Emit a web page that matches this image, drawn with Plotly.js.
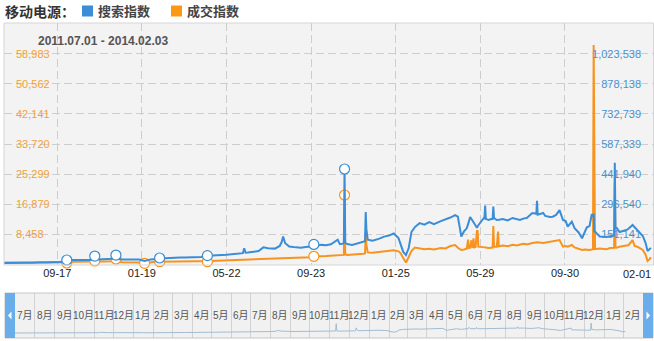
<!DOCTYPE html>
<html><head><meta charset="utf-8">
<script src="https://cdn.plot.ly/plotly-3.0.1.min.js"></script>
<style>html,body{margin:0;padding:0;background:#fff;}#chart{width:654px;height:341px;}</style>
</head><body><div id="chart"></div>
<script>
const chartTitle = '移动电源：';
const seriesNames = ['搜索指数', '成交指数'];

const dates = [
 '2011-07-01','2011-07-08','2011-07-15','2011-07-22',
 '2011-08-01','2011-08-08','2011-08-15','2011-08-22',
 '2011-09-01','2011-09-08','2011-09-15','2011-09-22',
 '2011-10-01','2011-10-08','2011-10-15','2011-10-22',
 '2011-11-01','2011-11-08','2011-11-11','2011-11-15','2011-11-22',
 '2011-12-01','2011-12-08','2011-12-12','2011-12-15','2011-12-22',
 '2012-01-01','2012-01-08','2012-01-15','2012-01-23','2012-01-29',
 '2012-02-01','2012-02-08','2012-02-14','2012-02-22',
 '2012-03-01','2012-03-08','2012-03-15','2012-03-22',
 '2012-04-01','2012-04-08','2012-04-15','2012-04-24',
 '2012-05-01','2012-05-08','2012-05-15','2012-05-22',
 '2012-06-01','2012-06-08','2012-06-15','2012-06-17','2012-06-19','2012-06-22',
 '2012-07-01','2012-07-08','2012-07-15','2012-07-22',
 '2012-08-01','2012-08-08','2012-08-11','2012-08-13','2012-08-16','2012-08-22',
 '2012-09-01','2012-09-08','2012-09-15','2012-09-22','2012-09-27',
 '2012-10-01','2012-10-08','2012-10-15','2012-10-22',
 '2012-11-01','2012-11-04','2012-11-08','2012-11-10','2012-11-11','2012-11-12','2012-11-15','2012-11-22',
 '2012-12-01','2012-12-08','2012-12-11','2012-12-12','2012-12-13','2012-12-15','2012-12-22',
 '2013-01-01','2013-01-08','2013-01-15','2013-01-22','2013-01-29',
 '2013-02-01','2013-02-05','2013-02-09','2013-02-13','2013-02-17','2013-02-22',
 '2013-03-01','2013-03-08','2013-03-15','2013-03-22',
 '2013-04-01','2013-04-08','2013-04-15','2013-04-22','2013-04-26','2013-04-29',
 '2013-05-01','2013-05-05','2013-05-09','2013-05-11','2013-05-12','2013-05-14','2013-05-16','2013-05-17','2013-05-19','2013-05-20','2013-05-22','2013-05-24','2013-05-25','2013-05-26','2013-05-31',
 '2013-06-03','2013-06-04','2013-06-05','2013-06-06','2013-06-07','2013-06-10','2013-06-14','2013-06-16','2013-06-17','2013-06-18','2013-06-22','2013-06-24','2013-06-25',
 '2013-07-01','2013-07-08','2013-07-15','2013-07-22','2013-07-26',
 '2013-08-01','2013-08-05','2013-08-13','2013-08-19','2013-08-20','2013-08-21','2013-08-29',
 '2013-09-01','2013-09-08','2013-09-12','2013-09-17','2013-09-22','2013-09-27',
 '2013-10-01','2013-10-04','2013-10-10','2013-10-14','2013-10-20','2013-10-25','2013-10-29',
 '2013-11-01','2013-11-05','2013-11-08','2013-11-10','2013-11-11','2013-11-12','2013-11-13','2013-11-20','2013-11-30',
 '2013-12-05','2013-12-11','2013-12-12','2013-12-13','2013-12-15','2013-12-19','2013-12-29',
 '2014-01-01','2014-01-07','2014-01-10','2014-01-14','2014-01-22','2014-01-26','2014-01-29',
 '2014-02-01','2014-02-03'
];

// 搜索指数 (right axis)
const searchIndex = [
 13000,12500,13500,13000,
 13500,14000,13000,14500,
 15000,15500,16000,17000,
 27000,26000,27500,26500,
 27000,28000,46000,30000,31000,
 31000,33000,51000,32000,30000,
 30000,30500,29000,22000,27000,
 30000,32000,36700,36000,
 38000,37500,39000,38500,
 39000,40000,42000,48000,
 48000,50000,51000,52000,
 55000,57000,60000,83500,62000,63000,
 66000,70000,88000,84000,
 82000,95000,115000,140000,108000,92000,
 88000,86000,90000,92000,102000,
 96000,100000,98000,103000,
 125000,104000,105000,110000,466500,110000,104000,100000,
 108000,112000,118000,259000,175000,125000,120000,
 130000,140000,145000,155000,133000,
 99000,66000,51000,85000,162000,186000,
 205000,198000,210000,200000,
 215000,222000,232000,244000,236000,181000,
 140000,165000,180000,200000,215000,234000,225000,220000,207000,200000,190000,183000,190000,195000,214000,
 230000,228000,290000,226000,225000,220000,225000,225000,285000,230000,220000,222000,221000,
 225000,218000,230000,222000,220000,
 228000,230000,254000,250000,313000,246000,254000,
 240000,235000,236000,245000,268000,220000,
 215000,188000,212000,181000,160000,132000,164000,
 185000,191000,244000,240000,250000,165000,164000,140000,138000,
 142000,145000,497000,180000,181500,162000,172000,
 178000,196000,185000,172000,143000,110000,70000,
 80000,85000
];

// 成交指数 (left axis)
const dealIndex = [
 560,540,580,560,
 600,620,590,640,
 650,680,700,720,
 430,760,800,780,
 800,850,990,820,850,
 850,900,1550,700,650,
 650,640,580,345,520,
 700,760,790,800,
 850,870,880,900,
 900,920,950,790,
 1000,1050,1100,1150,
 1150,1200,1250,1300,1300,1350,
 1450,1500,1550,1600,
 1650,1700,1750,1750,1750,1800,
 1900,1950,2000,2050,2300,
 2250,2350,2400,2450,
 2500,2500,2550,2700,19455,2800,2650,2700,
 2900,3000,3100,9100,5500,3400,3300,
 3500,3700,3900,4000,3700,
 3200,1830,570,2100,3800,4770,
 4500,4300,4400,4200,
 4600,4500,5185,5465,4700,4400,
 4070,4200,4400,7000,4600,4700,6800,4700,7300,4800,4900,9400,9400,5000,5000,
 4900,4850,4800,4750,4700,4600,4700,4750,10800,5000,5000,9200,5100,
 5300,5100,5500,5300,5600,
 5800,5600,6000,6100,6300,6200,6000,
 6100,6200,6400,6600,6860,5000,
 5200,5000,5465,4800,4400,4100,4200,
 4070,4100,4200,4300,61425,4400,4300,4500,4300,
 4600,4700,23000,4800,4700,5000,5300,
 5400,6860,5200,5000,4070,2800,1000,
 1500,2000
];

const eventDatesBoth = ['2011-10-01','2011-11-11','2011-12-12','2012-02-14','2012-04-24','2012-09-27','2012-11-11'];
const eventDatesDeal = ['2012-01-23'];

const xTickDates = ['2011-09-17','2012-01-19','2012-05-22','2012-09-23','2013-01-25','2013-05-29','2013-09-30','2014-02-01'];
const leftTickVals = [58983, 50562, 42141, 33720, 25299, 16879, 8458];
const rightTickVals = [1023538, 878138, 732739, 587339, 441940, 296540, 151141];

const sliderMonths = ['2011-07-01','2011-08-01','2011-09-01','2011-10-01','2011-11-01','2011-12-01',
 '2012-01-01','2012-02-01','2012-03-01','2012-04-01','2012-05-01','2012-06-01','2012-07-01','2012-08-01','2012-09-01','2012-10-01','2012-11-01','2012-12-01',
 '2013-01-01','2013-02-01','2013-03-01','2013-04-01','2013-05-01','2013-06-01','2013-07-01','2013-08-01','2013-09-01','2013-10-01','2013-11-01','2013-12-01',
 '2014-01-01','2014-02-01'];
const sliderEnd = '2014-03-01';
const sliderMonthLabels = ['7月','8月','9月','10月','11月','12月',
 '1月','2月','3月','4月','5月','6月','7月','8月','9月','10月','11月','12月',
 '1月','2月','3月','4月','5月','6月','7月','8月','9月','10月','11月','12月',
 '1月','2月'];

const W = 654, H = 341;
const px = v => v / W;
const py = v => 1 - v / H;
const BLUE = '#3a8dd6', ORANGE = '#f7931e';
const GRID = '#cdcdcd';

const idx = d => dates.indexOf(d);
const dealEvents = eventDatesBoth.concat(eventDatesDeal);

const traces = [
  {x: dates, y: searchIndex, type: 'scatter', mode: 'lines', xaxis: 'x', yaxis: 'y2',
   line: {color: BLUE, width: 2}},
  {x: dates, y: dealIndex, type: 'scatter', mode: 'lines', xaxis: 'x', yaxis: 'y',
   line: {color: ORANGE, width: 2}},
  {x: eventDatesBoth, y: eventDatesBoth.map(d => searchIndex[idx(d)]), type: 'scatter', mode: 'markers',
   xaxis: 'x', yaxis: 'y2', cliponaxis: false,
   marker: {size: 10, color: '#fff', line: {color: BLUE, width: 1.2}}},
  {x: dealEvents, y: dealEvents.map(d => dealIndex[idx(d)]), type: 'scatter', mode: 'markers',
   xaxis: 'x', yaxis: 'y', cliponaxis: false,
   marker: {size: 10, color: '#fff', line: {color: ORANGE, width: 1.2}}},
  {x: dates, y: searchIndex, type: 'scatter', mode: 'lines', xaxis: 'x2', yaxis: 'y3',
   line: {color: '#a3bcd3', width: 1}}
];

const fmt = v => v.toLocaleString('en-US');
const fmtDot = s => s.replace(/-/g, '.');
const fmtTick = s => s.slice(5);
const lastTick = xTickDates[xTickDates.length - 1];

const annotations = [
  {text: '<b>' + chartTitle + '</b>', xref: 'paper', yref: 'paper', x: px(3), y: py(11), xanchor: 'left', yanchor: 'middle',
   showarrow: false, font: {family: 'Noto Sans CJK SC, sans-serif', size: 14, color: '#333'}},
  {text: '<b>' + seriesNames[0] + '</b>', xref: 'paper', yref: 'paper', x: px(96), y: py(11), xanchor: 'left', yanchor: 'middle',
   showarrow: false, font: {family: 'Noto Sans CJK SC, sans-serif', size: 13, color: '#444'}},
  {text: '<b>' + seriesNames[1] + '</b>', xref: 'paper', yref: 'paper', x: px(185), y: py(11), xanchor: 'left', yanchor: 'middle',
   showarrow: false, font: {family: 'Noto Sans CJK SC, sans-serif', size: 13, color: '#444'}},
  {text: '<b>' + fmtDot(dates[0]) + ' - ' + fmtDot(dates[dates.length - 1]) + '</b>', xref: 'paper', yref: 'paper',
   x: px(36), y: py(41), xanchor: 'left', yanchor: 'middle', showarrow: false,
   font: {family: 'Liberation Sans, Arial, sans-serif', size: 12, color: '#555'}},
  // last x tick label, kept fully inside the right edge
  {text: fmtTick(lastTick), xref: 'paper', yref: 'paper', x: px(653), y: py(274), xanchor: 'right', yanchor: 'middle',
   showarrow: false, font: {family: 'Liberation Sans, Arial, sans-serif', size: 11, color: '#222'}}
];
sliderMonths.forEach((m, i) => {
  const t0 = new Date(m).getTime();
  const t1 = new Date(i + 1 < sliderMonths.length ? sliderMonths[i + 1] : sliderEnd).getTime();
  const mid = new Date((t0 + t1) / 2).toISOString().slice(0, 10);
  annotations.push({text: sliderMonthLabels[i], xref: 'x2', yref: 'paper', x: mid, y: py(315.5),
    xanchor: 'center', yanchor: 'middle', showarrow: false,
    font: {family: 'Liberation Sans, Noto Sans CJK SC, sans-serif', size: 10, color: '#555'}});
});

const shapes = [
  {type: 'rect', xref: 'paper', yref: 'paper', x0: px(4), x1: px(653.5), y0: py(265), y1: py(23),
   line: {color: '#d6d6d6', width: 1}, fillcolor: 'rgba(0,0,0,0)', layer: 'above'},
  {type: 'rect', xref: 'paper', yref: 'paper', x0: px(5), x1: px(653), y0: py(338), y1: py(293),
   line: {width: 0}, fillcolor: '#f1f1f1', layer: 'below'},
  {type: 'rect', xref: 'paper', yref: 'paper', x0: px(5), x1: px(653), y0: py(338), y1: py(293),
   line: {color: '#c6c6c6', width: 1}, fillcolor: 'rgba(0,0,0,0)', layer: 'above'},
  {type: 'rect', xref: 'paper', yref: 'paper', x0: px(5), x1: px(15), y0: py(338), y1: py(293),
   line: {width: 0}, fillcolor: '#69aeea', layer: 'above'},
  {type: 'rect', xref: 'paper', yref: 'paper', x0: px(643), x1: px(653), y0: py(338), y1: py(293),
   line: {width: 0}, fillcolor: '#69aeea', layer: 'above'},
  {type: 'path', xref: 'paper', yref: 'paper', layer: 'above', line: {width: 0}, fillcolor: '#ffffff',
   path: 'M ' + px(11.5) + ' ' + py(311.5) + ' L ' + px(11.5) + ' ' + py(319.5) + ' L ' + px(8) + ' ' + py(315.5) + ' Z'},
  {type: 'path', xref: 'paper', yref: 'paper', layer: 'above', line: {width: 0}, fillcolor: '#ffffff',
   path: 'M ' + px(646.5) + ' ' + py(311.5) + ' L ' + px(646.5) + ' ' + py(319.5) + ' L ' + px(650) + ' ' + py(315.5) + ' Z'},
  {type: 'rect', xref: 'paper', yref: 'paper', x0: px(82), x1: px(93), y0: py(16.5), y1: py(5.5),
   line: {width: 0}, fillcolor: BLUE},
  {type: 'rect', xref: 'paper', yref: 'paper', x0: px(171), x1: px(182), y0: py(16.5), y1: py(5.5),
   line: {width: 0}, fillcolor: '#fb9a12'}
];

const layout = {
  width: W, height: H, margin: {l: 0, r: 0, t: 0, b: 0},
  paper_bgcolor: '#ffffff', plot_bgcolor: '#f3f3f3', showlegend: false, hovermode: false,
  font: {family: 'Liberation Sans, Arial, sans-serif', size: 11},
  xaxis: {type: 'date', domain: [px(4), 1], anchor: 'y', range: ['2011-07-01', '2014-02-07 10:00'],
    tickvals: xTickDates, ticktext: xTickDates.map((d, i) => i === xTickDates.length - 1 ? '' : fmtTick(d)),
    ticks: '', showgrid: true, gridcolor: GRID, griddash: '8px,4px',
    gridwidth: 1, zeroline: false, showline: false, tickfont: {size: 11, color: '#222'}},
  yaxis: {domain: [py(265), py(23)], anchor: 'x', side: 'left', range: [-130, 67580],
    tickvals: leftTickVals, ticktext: leftTickVals.map(fmt), ticklabelposition: 'inside', ticklabelstandoff: 9,
    ticks: '', showgrid: true, gridcolor: GRID, griddash: '8px,4px', zeroline: false, showline: false,
    tickfont: {size: 11, color: '#f0a23a'}},
  yaxis2: {overlaying: 'y', anchor: 'x', side: 'right', range: [2843, 1171700],
    tickvals: rightTickVals, ticktext: rightTickVals.map(fmt), ticklabelposition: 'inside', ticklabelstandoff: 10,
    ticks: '', showgrid: false, zeroline: false, showline: false, tickfont: {size: 11, color: '#4b91cd'}},
  xaxis2: {type: 'date', domain: [px(15), px(642)], anchor: 'y3', range: [sliderMonths[0], sliderEnd],
    tickvals: sliderMonths, showticklabels: false, ticks: '', showgrid: true, gridcolor: '#d2d2d2',
    zeroline: false, showline: false},
  yaxis3: {domain: [py(338), py(293)], anchor: 'x2', range: [-229000, 1949000], showticklabels: false,
    showgrid: false, zeroline: false, ticks: ''},
  shapes: shapes,
  annotations: annotations
};

Plotly.newPlot('chart', traces, layout, {staticPlot: true, displayModeBar: false});
</script>
</body></html>
